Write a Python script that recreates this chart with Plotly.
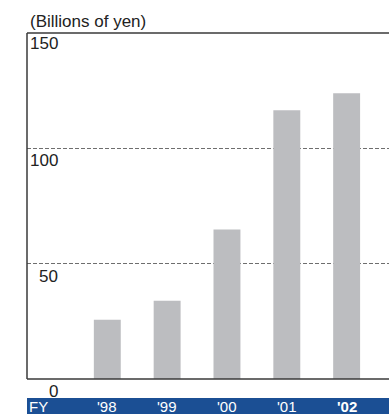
import plotly.graph_objects as go

years = ["'98", "'99", "'00", "'01", "'02"]
values = [25.7, 33.9, 64.8, 116.5, 123.9]
y_ticks = [0, 50, 100, 150]
y_tick_labels = ["0", "50", "100", "150"]
unit_label = "(Billions of yen)"
fy_label = "FY"

FONT = "Liberation Sans, Arial, Helvetica, sans-serif"
BLUE = "#1b4f94"
LINE = "#3a3a3a"
FS = 17
FS_BAND = 15

fig = go.Figure()
fig.add_trace(go.Bar(
    x=list(range(len(years))), y=values,
    marker=dict(color="#bcbdc0", line=dict(width=0)),
    width=0.45, hoverinfo="skip",
))

ann = []
for v, t in zip(y_ticks, y_tick_labels):
    ann.append(dict(x=-0.79, xref="x", y=v, yref="y", text=t, showarrow=False,
                    xanchor="right", yanchor="top", yshift=(1 if v == 150 else -1),
                    font=dict(family=FONT, size=FS, color="#222")))
ann.append(dict(x=0.0, xref="paper", y=1.0, yref="paper", text=unit_label,
                showarrow=False, xanchor="left", yanchor="bottom", xshift=1, yshift=0,
                font=dict(family=FONT, size=FS, color="#222")))
BAND_BOTTOM = -0.1012
ann.append(dict(x=0.0, xref="paper", y=BAND_BOTTOM, yref="paper", text=fy_label,
                showarrow=False, xanchor="left", yanchor="bottom", yshift=-3,
                font=dict(family=FONT, size=FS_BAND, color="white")))
for i, yr in enumerate(years):
    txt = f"<b>{yr}</b>" if i == len(years) - 1 else yr
    ann.append(dict(x=i, xref="x", y=BAND_BOTTOM, yref="paper", text=txt, showarrow=False,
                    xanchor="center", yanchor="bottom", yshift=-3,
                    font=dict(family=FONT, size=FS_BAND, color="white")))

shapes = [
    dict(type="rect", xref="paper", yref="paper", x0=0, x1=1.02,
         y0=-0.11, y1=-0.0549, fillcolor=BLUE, line=dict(width=0), layer="below"),
    dict(type="line", xref="paper", yref="paper", x0=0, x1=0, y0=0, y1=1,
         line=dict(color=LINE, width=1.5), layer="above"),
    dict(type="line", xref="paper", yref="paper", x0=0, x1=1, y0=1, y1=1,
         line=dict(color=LINE, width=1.5), layer="above"),
    dict(type="line", xref="paper", yref="paper", x0=0, x1=1, y0=0, y1=0,
         line=dict(color=LINE, width=1.5), layer="above"),
]

fig.update_layout(
    width=389, height=414,
    margin=dict(l=27, r=0, t=33, b=35),
    paper_bgcolor="white", plot_bgcolor="white",
    showlegend=False,
    annotations=ann, shapes=shapes,
    xaxis=dict(range=[-1.342, 4.708], showticklabels=False, ticks="", showgrid=False,
               zeroline=False, showline=False, fixedrange=True),
    yaxis=dict(range=[0, 150], tickvals=[50, 100], showticklabels=False, ticks="",
               showgrid=True, gridcolor="#6e6e6e", griddash="4px,2px", gridwidth=1,
               zeroline=False, showline=False, fixedrange=True),
)

fig.write_html("out.html", config={"displayModeBar": False})
